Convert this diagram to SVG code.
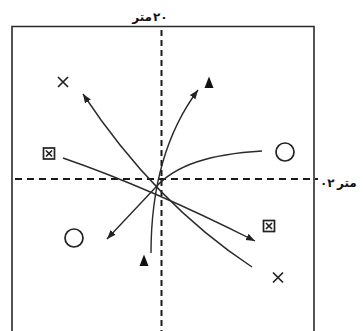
<svg xmlns="http://www.w3.org/2000/svg" width="363" height="331" viewBox="0 0 363 331">
<style>
.frame{fill:none;stroke:#2a2a2a;stroke-width:1.6}
.dash{fill:none;stroke:#1a1a1a;stroke-width:2}
.path{fill:none;stroke:#2a2a2a;stroke-width:1.4}
.sym{fill:none;stroke:#222;stroke-width:1.7}
.tri{fill:#111}
.lbl{font-family:"DejaVu Sans",sans-serif;font-weight:bold;font-size:12px;fill:#111}
</style>
<defs>
<marker id="ah" markerUnits="userSpaceOnUse" markerWidth="10" markerHeight="8" refX="9" refY="4" orient="auto">
<path d="M0,0.5 L9,4 L0,7.5 Z" fill="#222"/>
</marker>
</defs>
<rect width="363" height="331" fill="#fff"/>
<g id="frame">
<path class="frame" d="M12,333 L12,26.5 L314,26.5 L314,333"/>
</g>
<g id="axes">
<line class="dash" x1="161.5" y1="30" x2="161.5" y2="331" stroke-dasharray="6 4"/>
<line class="dash" x1="15" y1="179" x2="318" y2="179" stroke-dasharray="7 5"/>
</g>
<g id="label-top">
<text class="lbl" x="152" y="21" text-anchor="end">متر</text>
<text class="lbl" x="153" y="21" text-anchor="start">۲۰</text>
</g>
<g id="label-right">
<text class="lbl" x="320" y="187" text-anchor="start">۰۲</text>
<text class="lbl" x="337" y="187" text-anchor="start">متر</text>
</g>
<g id="connectors">
<path class="path" d="M63,158 Q150,188 255,241" marker-end="url(#ah)"/>
<path class="path" d="M252,267 Q155,203 83,94" marker-end="url(#ah)"/>
<path class="path" d="M262,151 C210,154 175,165 155,188 L107,239" marker-end="url(#ah)"/>
<path class="path" d="M151,253 Q151,153 198,90" marker-end="url(#ah)"/>
</g>
<g id="cross-tl"><path class="sym" d="M58,77 L68,87 M68,77 L58,87"/></g>
<g id="tri-top"><path class="tri" d="M209,76.5 L213.5,88 L204.5,88 Z"/></g>
<g id="boxx-left"><rect class="sym" x="43.5" y="148" width="11" height="11" stroke-width="1.5"/><path class="sym" d="M46,150.5 L52,156.5 M52,150.5 L46,156.5" stroke-width="1.1"/></g>
<g id="circle-right"><circle class="sym" cx="285" cy="152" r="9" stroke-width="1.5"/></g>
<g id="circle-left"><circle class="sym" cx="74" cy="238" r="9" stroke-width="1.5"/></g>
<g id="tri-bottom"><path class="tri" d="M144,254.5 L148.5,266 L139.5,266 Z"/></g>
<g id="boxx-right"><rect class="sym" x="263.5" y="220.5" width="11" height="11" stroke-width="1.5"/><path class="sym" d="M266,223 L272,229 M272,223 L266,229" stroke-width="1.1"/></g>
<g id="cross-br"><path class="sym" d="M273,272.5 L283,282.5 M283,272.5 L273,282.5"/></g>
</svg>
